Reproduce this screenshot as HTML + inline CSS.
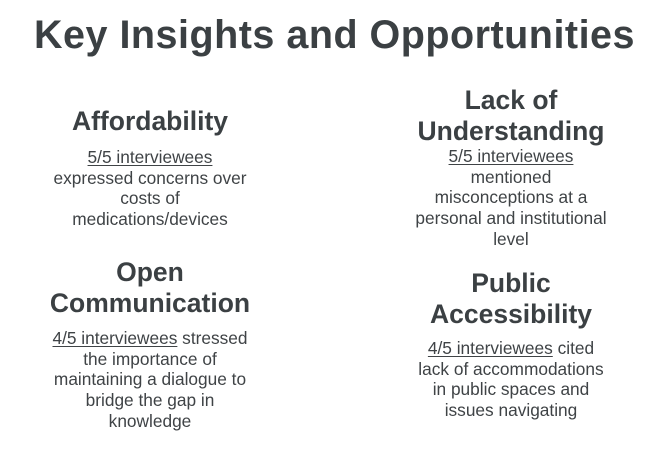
<!DOCTYPE html>
<html><head><meta charset="utf-8"><style>
html,body{margin:0;padding:0}
body{width:669px;height:463px;background:#fff;position:relative;overflow:hidden;font-family:"Liberation Sans",sans-serif;color:#3b4043}
.t{position:absolute;left:0;width:669px;top:12px;text-align:center;font-weight:bold;font-size:39.5px;line-height:46px;letter-spacing:0.5px}
.h{position:absolute;text-align:center;font-weight:bold;font-size:26.5px;line-height:31px;width:300px}
.b{position:absolute;text-align:center;font-size:17.3px;line-height:20.7px;width:300px;color:#3f4346}
u{text-decoration:underline;text-underline-offset:2px}
</style></head><body>
<div class="t">Key Insights and Opportunities</div>

<div class="h" style="left:0;top:106px">Affordability</div>
<div class="b" style="left:0;top:147px"><u>5/5 interviewees</u><br>expressed concerns over<br>costs of<br>medications/devices</div>

<div class="h" style="left:361px;top:85px">Lack of<br>Understanding</div>
<div class="b" style="left:361px;top:146px"><u>5/5 interviewees</u><br>mentioned<br>misconceptions at a<br>personal and institutional<br>level</div>

<div class="h" style="left:0;top:257px">Open<br>Communication</div>
<div class="b" style="left:0;top:328px"><u>4/5 interviewees</u> stressed<br>the importance of<br>maintaining a dialogue to<br>bridge the gap in<br>knowledge</div>

<div class="h" style="left:361px;top:268px">Public<br>Accessibility</div>
<div class="b" style="left:361px;top:338px"><u>4/5 interviewees</u> cited<br>lack of accommodations<br>in public spaces and<br>issues navigating</div>
</body></html>
